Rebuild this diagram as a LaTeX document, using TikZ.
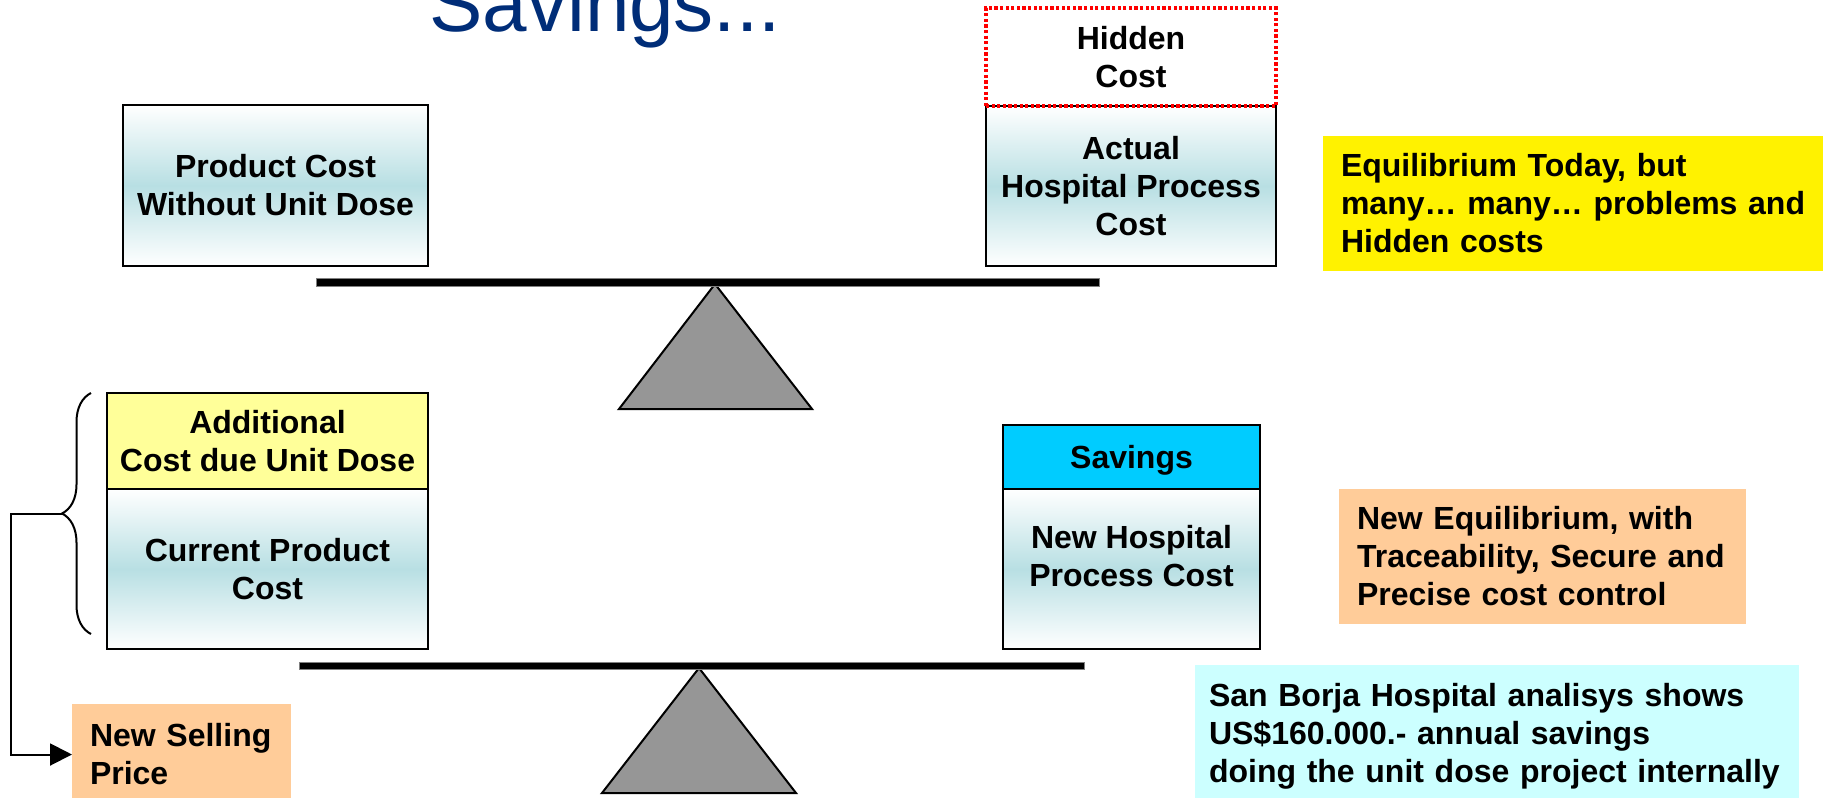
\documentclass[tikz,border=0pt]{standalone}
\usepackage{fontspec}
\setmainfont{Liberation Sans}
\usepackage{xcolor}
\usetikzlibrary{arrows.meta}
\usetikzlibrary{positioning,decorations.pathreplacing}

\definecolor{titleblue}{RGB}{0,45,120}
\definecolor{boxteal}{RGB}{184,223,227}
\definecolor{lightyellow}{RGB}{255,255,153}
\definecolor{savingscyan}{RGB}{0,204,255}
\definecolor{noteorange}{RGB}{255,204,153}
\definecolor{notecyan}{RGB}{204,255,255}
\definecolor{fulcrumgray}{RGB}{150,150,150}

\begin{document}
\begin{tikzpicture}[x=0.5pt,y=-0.5pt,>={Triangle[length=11pt,width=11pt]},
    cost box/.style={draw,line width=1pt,outer sep=0pt,inner sep=0pt,align=center,
                     font=\bfseries\fontsize{16}{19}\selectfont},
    shaded box/.style={cost box,top color=white,bottom color=white,middle color=boxteal},
    note/.style={anchor=north west,inner xsep=9pt,inner ysep=0pt,outer sep=0pt,align=left,
                 font=\bfseries\fontsize{16}{19}\selectfont},
    beam/.style={fill=black,draw=gray,line width=0.4pt},
    fulcrum/.style={fill=fulcrumgray,draw=black,line width=1pt}]

  \useasboundingbox (0,0) rectangle (1823,797);
  \clip (0,0) rectangle (1823,797);

  \node[anchor=base west,inner sep=0pt,text=titleblue,font=\fontsize{40}{48}\selectfont] (title) at (429,32) {Savings...};

  % today
  \node[shaded box,anchor=north west,minimum width=152.5pt,minimum height=80.5pt] (prodcost) at (123,105) {Product Cost\\Without Unit Dose};
  \node[shaded box,anchor=north west,minimum width=145pt,minimum height=80pt] (actual) at (986,106) {Actual\\Hospital Process\\Cost};
  \node[cost box,draw=red,line width=1.6pt,dash pattern=on 1.6pt off 1.2pt,minimum width=145pt,minimum height=49pt,above=0pt of actual] (hidden) {Hidden\\Cost};

  \draw[fulcrum] (715,284) -- (812,409) -- (619,409) -- cycle;
  \draw[beam] (316,278) rectangle (1099,286);

  \node[note,fill=yellow,text width=245pt,minimum height=67.5pt] (today) at (1323,136) {Equilibrium Today, but\\many… many… problems and\\Hidden costs};

  % new equilibrium
  \node[shaded box,anchor=north west,minimum width=160.5pt,minimum height=80pt] (current) at (107,489) {Current Product\\Cost};
  \node[cost box,fill=lightyellow,minimum width=160.5pt,minimum height=48pt,above=0pt of current] (additional) {Additional\\Cost due Unit Dose};
  \node[shaded box,anchor=north west,minimum width=128.5pt,minimum height=80pt] (newproc) at (1003,489) {};
  \node[align=center,font=\bfseries\fontsize{16}{19}\selectfont] (newproctext) at ([yshift=6.5pt]newproc.center) {New Hospital\\Process Cost};
  \node[cost box,fill=savingscyan,text depth=0pt,minimum width=128.5pt,minimum height=32pt,above=0pt of newproc] (savings) {Savings};

  \draw[fulcrum] (699,668) -- (796,793) -- (602,793) -- cycle;
  \draw[beam] (299,662) rectangle (1084,669.5);

  \node[note,fill=noteorange,text width=185.5pt,minimum height=67.5pt] (newequil) at (1339,489) {New Equilibrium, with\\Traceability, Secure and\\Precise cost control};
  \node[note,fill=notecyan,inner xsep=7pt,text width=288pt,minimum height=71pt] (sanborja) at (1195,665) {San Borja Hospital analisys shows\\US\$160.000.- annual savings\\doing the unit dose project internally};
  \node[note,fill=noteorange,text width=91.5pt,minimum height=50.5pt] (newsell) at (72,704) {New Selling\\Price};

  \draw[decorate,decoration={brace,amplitude=14.5pt},line width=1pt] (91,634) -- (91,393);
  \coordinate (bracetip) at (62,513.5);
  \draw[->,line width=1pt] (bracetip) -- ++(-51,0) |- (newsell.west);
\end{tikzpicture}
\end{document}
